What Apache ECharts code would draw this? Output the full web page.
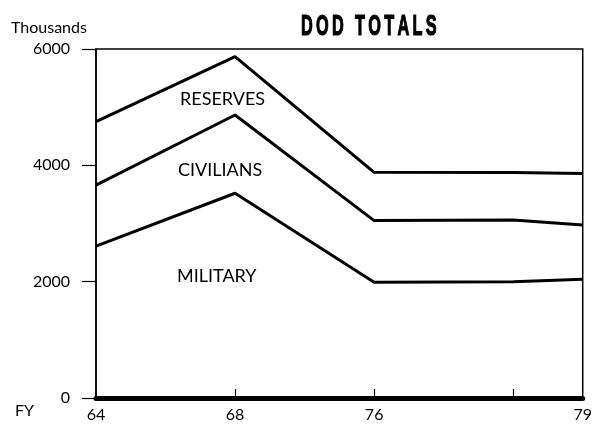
<!DOCTYPE html>
<html>
<head>
<meta charset="utf-8">
<script src="https://cdn.jsdelivr.net/npm/echarts@6/dist/echarts.min.js"></script>
<style>
  html, body { margin: 0; padding: 0; background: #fff; }
  #main { width: 595px; height: 429px; }
</style>
</head>
<body>
<div id="main"></div>
<script>
  // fiscal years sit at uneven spacing on the original, so use slot positions
  let xPos = [0, 1, 2, 3, 3.5],
      xLabels = ['64', '68', '76', '', '79'],
      reserves = [4750, 5870, 3880, 3875, 3860],
      civilians = [3660, 4865, 3050, 3060, 2975],
      military = [2610, 3520, 1990, 2000, 2040],
      yTicks = [0, 2000, 4000, 6000];

  function pts(vals){
    return vals.map((v, i) => [xPos[i], v])
  }

  let font = 'Lato';

  function lineSeries(name, vals){
    return {
      name,
      type: 'line',
      data: pts(vals),
      symbol: 'none',
      lineStyle: { color: '#000', width: 3 },
      z: 3
    }
  }

  var myChart = echarts.init(document.getElementById('main'));
  var option = {
    backgroundColor: '#fff',
    animation: false,
    grid: {
      left: 96,
      right: 12,
      top: 49,
      bottom: 31,
      show: true,
      borderColor: '#000',
      borderWidth: 1.5
    },
    xAxis: {
      type: 'value',
      min: 0,
      max: 3.5,
      interval: 0.5,
      axisLine: { lineStyle: { color: '#000', width: 5 } },
      axisTick: {
        show: true,
        inside: true,
        length: 9,
        lineStyle: { color: '#000', width: 1.2 },
        customValues: [1, 2, 3]
      },
      axisLabel: {
        customValues: [0, 1, 2, 3.5],
        color: '#000',
        fontFamily: font,
        fontSize: 16,
        margin: 9,
        formatter: v => xLabels[xPos.indexOf(v)] || ''
      },
      splitLine: { show: false }
    },
    yAxis: {
      type: 'value',
      min: 0,
      max: 6000,
      interval: 2000,
      axisLine: { show: true, lineStyle: { color: '#000', width: 1.5 } },
      axisTick: { show: true, length: 14, lineStyle: { color: '#000', width: 1.2 } },
      axisLabel: {
        color: '#000',
        fontFamily: font,
        fontSize: 16,
        margin: 26,
        formatter: v => yTicks.indexOf(v) >= 0 ? String(v) : ''
      },
      splitLine: { show: false }
    },
    series: [
      lineSeries('Reserves', reserves),
      lineSeries('Civilians', civilians),
      lineSeries('Military', military)
    ],
    graphic: [
      {
        // condensed heavy title: squeeze a bold sans and stretch it vertically
        type: 'text', x: 301, y: 11, scaleX: 0.74, scaleY: 1.38,
        style: {
          text: 'D\u2009O\u2009D\u2002\u2009T\u2009O\u2009T\u2009A\u2009L\u2009S',
          font: 'bold 22px "Liberation Sans"',
          fill: '#000',
          stroke: '#000',
          lineWidth: 0.9,
          verticalAlign: 'top'
        }
      },
      {
        type: 'text', left: 11, top: 20,
        style: { text: 'Thousands', font: '16px ' + font, fill: '#000' }
      },
      {
        type: 'text', left: 15, top: 403,
        style: { text: 'FY', font: '16px ' + font, fill: '#000' }
      },
      {
        type: 'text', left: 180, top: 90,
        style: { text: 'RESERVES', font: '18px ' + font, fill: '#000' }
      },
      {
        type: 'text', left: 178, top: 161,
        style: { text: 'CIVILIANS', font: '18px ' + font, fill: '#000' }
      },
      {
        type: 'text', left: 177, top: 267,
        style: { text: 'MILITARY', font: '18px ' + font, fill: '#000' }
      }
    ]
  };
  myChart.setOption(option);
</script>
</body>
</html>
